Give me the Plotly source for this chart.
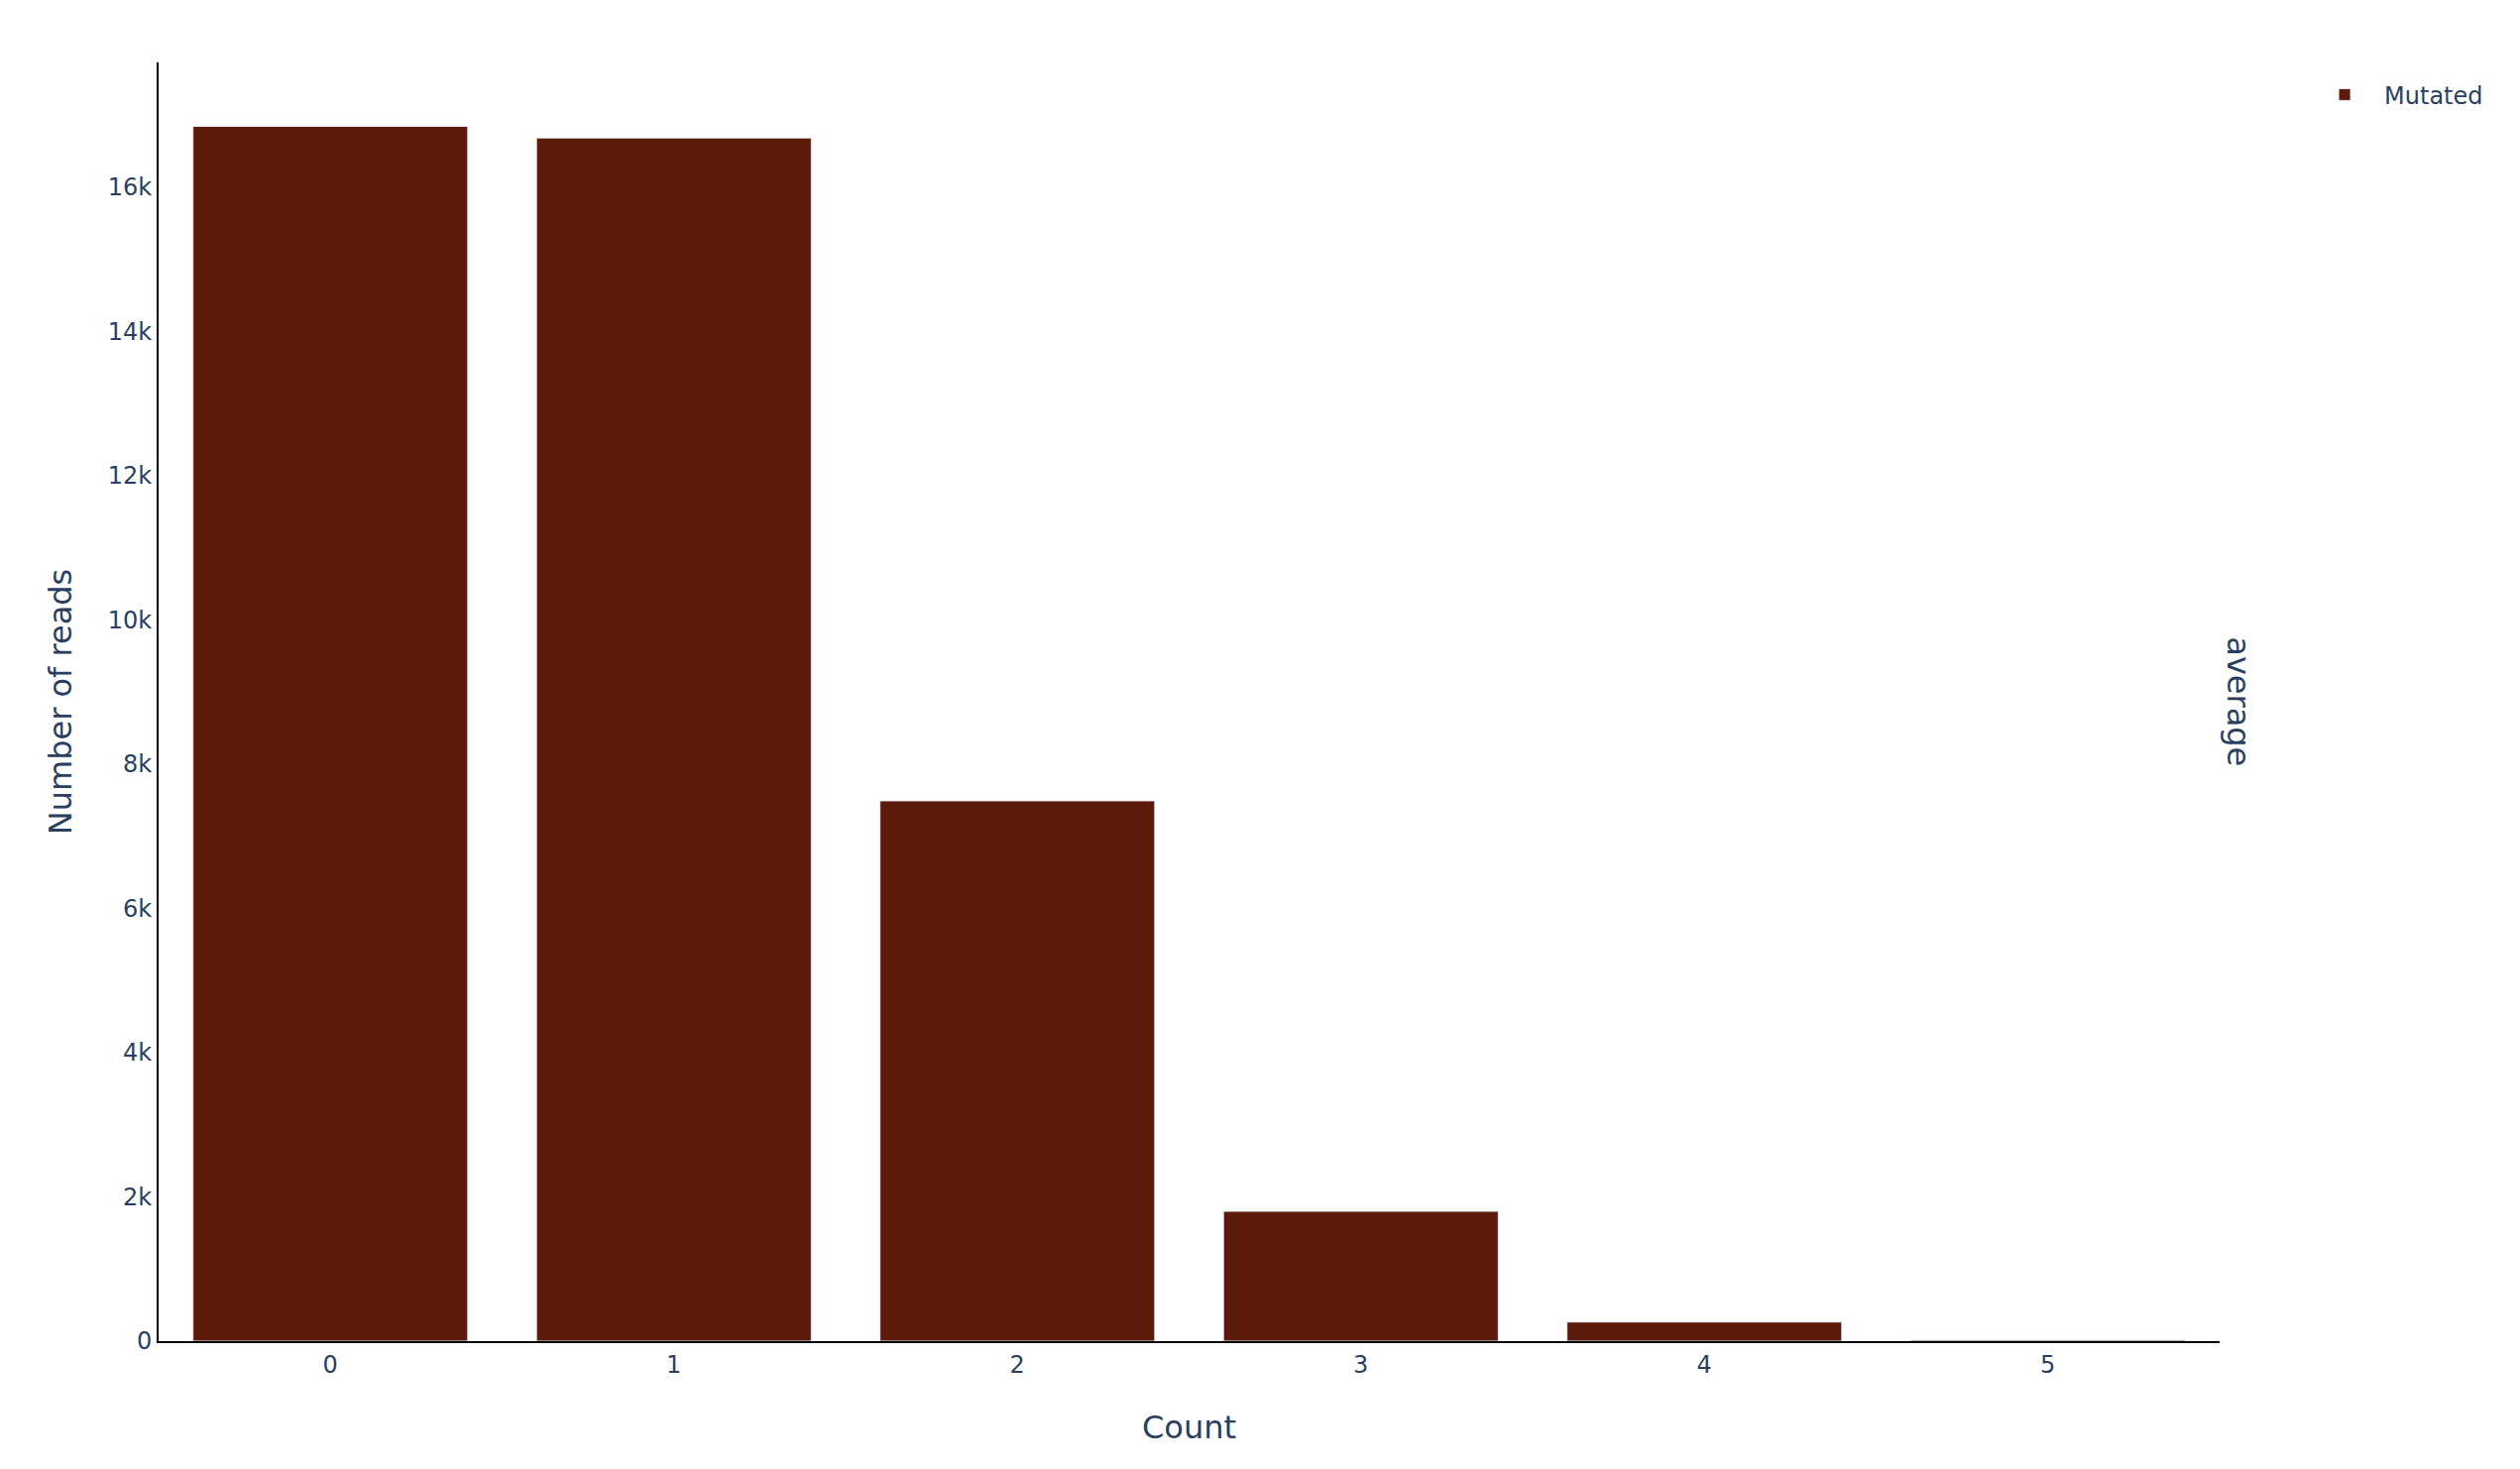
import plotly.graph_objects as go

# mutation counts per read
counts = [0, 1, 2, 3, 4, 5]
reads = [16840, 16680, 7490, 1800, 265, 15]

bar_color = "#5C1A0B"
font_family = "Verdana, DejaVu Sans, sans-serif"

fig = go.Figure()

fig.add_trace(
    go.Bar(
        x=counts,
        y=reads,
        name="Mutated",
        marker=dict(color=bar_color, line=dict(color="#E5ECF6", width=1)),
        showlegend=True,
    )
)

fig.update_layout(
    template="plotly",
    plot_bgcolor="white",
    paper_bgcolor="white",
    font=dict(family=font_family, size=24, color="#2a3f5f"),
    margin=dict(l=152, r=295, t=55, b=121, autoexpand=False),
    legend=dict(
        font=dict(size=24),
        x=1.0414,
        xanchor="left",
        y=0.992,
        yanchor="top",
        itemwidth=70,
    ),
    annotations=[
        dict(
            text="average",
            xref="paper",
            yref="paper",
            x=1.009,
            y=0.5,
            xanchor="center",
            yanchor="middle",
            textangle=90,
            showarrow=False,
            font=dict(size=32),
        )
    ],
)

fig.update_xaxes(
    title=dict(text="Count", font=dict(size=32), standoff=39),
    automargin=False,
    showgrid=False,
    zeroline=False,
    showline=True,
    linecolor="black",
    linewidth=2,
    tickmode="array",
    tickvals=counts,
    ticklabelstandoff=1,
)
fig.update_yaxes(
    title=dict(text="Number of reads", font=dict(size=32), standoff=27),
    automargin=False,
    showgrid=False,
    zeroline=False,
    showline=True,
    linecolor="black",
    linewidth=2,
)

fig.write_html("out.html")
